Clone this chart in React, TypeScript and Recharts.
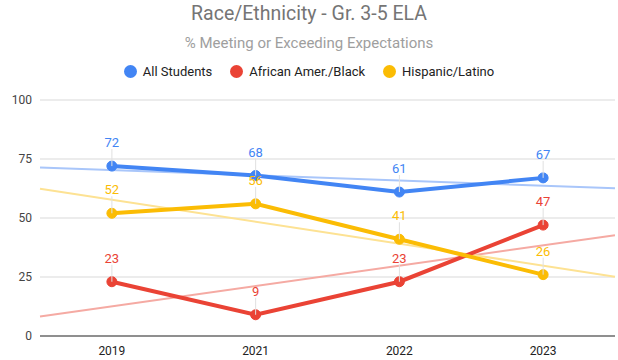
import { LineChart, Line, XAxis, YAxis, CartesianGrid, LabelList } from 'recharts'

const YEARS = ['2019', '2021', '2022', '2023']
const ALL_STUDENTS = [72, 68, 61, 67]
const BLACK = [23, 9, 23, 47]
const HISPANIC = [52, 56, 41, 26]
const Y_TICKS = [0, 25, 50, 75, 100]

const SERIES = [
  { key: 'all', name: 'All Students', color: '#4285F4', trend: '#a9c6fa', values: ALL_STUDENTS },
  { key: 'black', name: 'African Amer./Black', color: '#EA4335', trend: '#f5aaa3', values: BLACK },
  { key: 'hisp', name: 'Hispanic/Latino', color: '#FBBC04', trend: '#fde293', values: HISPANIC },
]

const FONT = 'Roboto, Arial, sans-serif'

// rows for the main lines
const rows = YEARS.map((_, i) => ({
  x: i,
  all: ALL_STUDENTS[i],
  black: BLACK[i],
  hisp: HISPANIC[i],
}))

// least-squares trendline evaluated at the plot edges
function trend(values: number[]) {
  const n = values.length
  const mx = (n - 1) / 2
  const my = values.reduce((a, b) => a + b, 0) / n
  let num = 0
  let den = 0
  values.forEach((v, i) => {
    num += (i - mx) * (v - my)
    den += (i - mx) * (i - mx)
  })
  const slope = num / den
  const lo = -0.5
  const hi = n - 0.5
  return [
    { x: lo, t: my + slope * (lo - mx) },
    { x: hi, t: my + slope * (hi - mx) },
  ]
}

function makeLabel(color: string) {
  return (props: any) => {
    const { x, y, value } = props
    return (
      <g>
        <line x1={x} x2={x} y1={y - 17} y2={y} stroke="#e0e0e0" strokeWidth={1} />
        <text x={x} y={y - 19} textAnchor="middle" fill={color} fontSize={13} fontFamily={FONT}>
          {value}
        </text>
      </g>
    )
  }
}

export default function App() {
  return (
    <div style={{ position: 'absolute', left: 0, top: 0, width: 618, height: 360, background: '#fff', fontFamily: FONT }}>
      <div style={{ position: 'absolute', top: 2, width: 618, textAlign: 'center', fontSize: 19.5, color: '#757575' }}>
        Race/Ethnicity - Gr. 3-5 ELA
      </div>
      <div style={{ position: 'absolute', top: 34, width: 618, textAlign: 'center', fontSize: 15, color: '#9e9e9e' }}>
        % Meeting or Exceeding Expectations
      </div>
      <div style={{ position: 'absolute', top: 64, width: 618, display: 'flex', justifyContent: 'center', fontSize: 13, color: '#222' }}>
        {SERIES.map(s => (
          <div key={s.key} style={{ display: 'flex', alignItems: 'center', margin: '0 9px' }}>
            <span style={{ width: 13, height: 13, borderRadius: 7, background: s.color, marginRight: 6, display: 'inline-block' }} />
            {s.name}
          </div>
        ))}
      </div>
      <LineChart width={618} height={360} data={rows} margin={{ top: 100, right: 3, bottom: 2, left: 0 }}>
        <CartesianGrid vertical={false} stroke="#d9d9d9" />
        <XAxis
          dataKey="x"
          type="number"
          domain={[-0.5, YEARS.length - 0.5]}
          ticks={YEARS.map((_, i) => i)}
          tickFormatter={(v: number) => YEARS[v]}
          tickLine={false}
          axisLine={{ stroke: '#333' }}
          tick={{ fill: '#222', fontSize: 12, fontFamily: FONT, dy: 2 }}
          height={22}
        />
        <YAxis
          domain={[0, 100]}
          ticks={Y_TICKS}
          axisLine={false}
          tickLine={false}
          tick={{ fill: '#444', fontSize: 12, fontFamily: FONT }}
          width={40}
        />
        {SERIES.map(s => (
          <Line
            key={`${s.key}-trend`}
            data={trend(s.values)}
            dataKey="t"
            stroke={s.trend}
            strokeWidth={2}
            dot={false}
            activeDot={false}
            legendType="none"
            isAnimationActive={false}
          />
        ))}
        {SERIES.map(s => (
          <Line
            key={s.key}
            dataKey={s.key}
            name={s.name}
            stroke={s.color}
            strokeWidth={4}
            dot={{ r: 5, fill: s.color, stroke: s.color, strokeWidth: 1 }}
            isAnimationActive={false}
          >
            <LabelList dataKey={s.key} content={makeLabel(s.color)} />
          </Line>
        ))}
      </LineChart>
    </div>
  )
}
